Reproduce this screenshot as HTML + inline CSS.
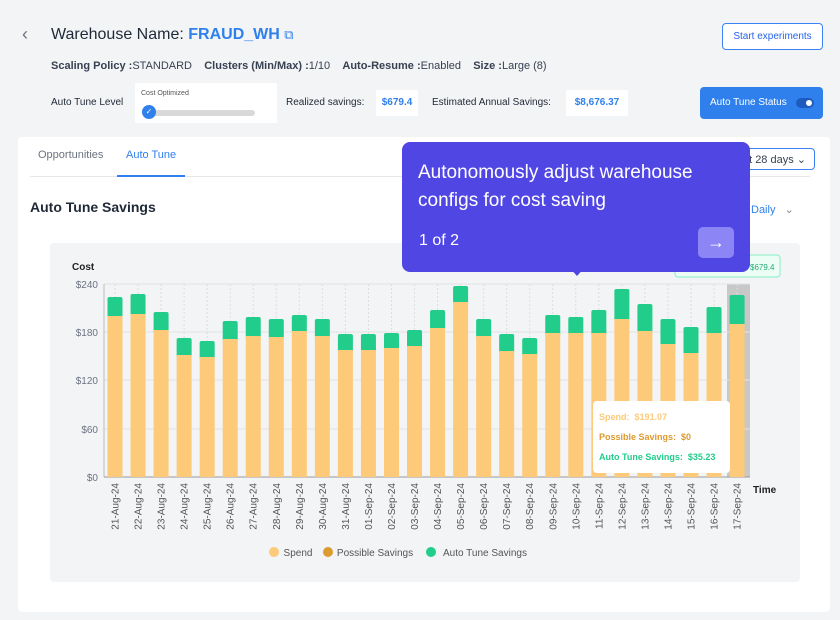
<!DOCTYPE html>
<html><head><meta charset="utf-8"><style>
body{margin:0;width:840px;height:620px;background:#f3f4f6;font-family:"Liberation Sans",sans-serif;position:relative;overflow:hidden;color:#1f2937}
.a{position:absolute;white-space:nowrap}
</style></head><body>
<div class="a" style="left:22px;top:24px;font-size:18px;color:#6b7280">‹</div>
<div class="a" style="left:51px;top:26px;font-size:16px;color:#1f2937">Warehouse Name: <span style="color:#2f80ed;font-weight:bold">FRAUD_WH</span> <span style="color:#2f80ed;font-size:13px">⧉</span></div>
<div class="a" style="left:722px;top:23px;width:99px;height:25px;border:1px solid #3b82f6;border-radius:4px;background:#fff;color:#2563eb;font-size:10px;line-height:25px;text-align:center">Start experiments</div>
<div class="a" style="left:51px;top:60px;font-size:11px;color:#374151"><b>Scaling Policy :</b>STANDARD &nbsp;&nbsp; <b>Clusters (Min/Max) :</b>1/10 &nbsp;&nbsp; <b>Auto-Resume :</b>Enabled &nbsp;&nbsp; <b>Size :</b>Large (8)</div>
<div class="a" style="left:51px;top:97px;font-size:10px">Auto Tune Level</div>
<div class="a" style="left:135px;top:83px;width:142px;height:40px;background:#fff"></div>
<div class="a" style="left:141px;top:90px;font-size:7px;color:#555">Cost Optimized</div>
<div class="a" style="left:145px;top:110px;width:110px;height:6px;background:#d9d9d9;border-radius:3px"></div>
<div class="a" style="left:142px;top:105px;width:14px;height:14px;border-radius:50%;background:#2f80ed;color:#fff;font-size:8px;text-align:center;line-height:14px">✓</div>
<div class="a" style="left:286px;top:97px;font-size:10px">Realized savings:</div>
<div class="a" style="left:376px;top:90px;width:42px;height:26px;background:#fff;color:#2f80ed;font-size:10px;font-weight:bold;line-height:26px;text-align:center">$679.4</div>
<div class="a" style="left:432px;top:97px;font-size:10px">Estimated Annual Savings:</div>
<div class="a" style="left:566px;top:90px;width:62px;height:26px;background:#fff;color:#2f80ed;font-size:10px;font-weight:bold;line-height:26px;text-align:center">$8,676.37</div>
<div class="a" style="left:700px;top:87px;width:123px;height:32px;background:#2f80ed;border-radius:4px;color:#fff;font-size:10px;line-height:32px;padding-left:10px;box-sizing:border-box">Auto Tune Status<span style="position:absolute;right:9px;top:11px;width:18px;height:10px;border-radius:5px;background:#1e5bbf"><span style="position:absolute;right:2px;top:2px;width:6px;height:6px;border-radius:50%;background:#fff"></span></span></div>
<div class="a" style="left:18px;top:137px;width:812px;height:475px;background:#fff;border-radius:4px"></div>
<div class="a" style="left:38px;top:149px;font-size:11px;color:#6b7280">Opportunities</div>
<div class="a" style="left:126px;top:149px;font-size:11px;color:#2f80ed">Auto Tune</div>
<div class="a" style="left:30px;top:176px;width:780px;height:1px;background:#e5e7eb"></div>
<div class="a" style="left:117px;top:175px;width:68px;height:2px;background:#2f80ed"></div>
<div class="a" style="left:740px;top:148px;width:75px;height:22px;border:1px solid #3b82f6;border-radius:4px;font-size:11px;line-height:22px;color:#374151;text-align:right;padding-right:8px;box-sizing:border-box">t 28 days ⌄</div>
<div class="a" style="left:30px;top:199px;font-size:14px;font-weight:bold;color:#1f2937">Auto Tune Savings</div>
<div class="a" style="left:751px;top:203px;font-size:11px;color:#2f80ed">Daily &nbsp;&nbsp;<span style="color:#888">⌄</span></div>
<div class="a" style="left:50px;top:243px;width:750px;height:339px;background:#f3f4f6;border-radius:4px"></div>
<svg class="a" style="left:0;top:0" width="840" height="620" font-family="Liberation Sans,sans-serif">
<rect x="727" y="284" width="23" height="193" fill="#c8c8c8"/>
<g stroke="#e2e2e2"><line x1="104" y1="284" x2="750" y2="284"/><line x1="104" y1="332" x2="750" y2="332"/><line x1="104" y1="380" x2="750" y2="380"/><line x1="104" y1="429" x2="750" y2="429"/></g>
<line x1="104" y1="284" x2="104" y2="477" stroke="#bbb"/><line x1="104" y1="477" x2="750" y2="477" stroke="#999"/>
<g font-size="10" fill="#6b7280" text-anchor="end"><text x="98" y="288">$240</text><text x="98" y="336">$180</text><text x="98" y="384">$120</text><text x="98" y="433">$60</text><text x="98" y="481">$0</text></g>
<text x="72" y="270" font-size="10" font-weight="bold" fill="#222">Cost</text>
<text x="753" y="493" font-size="10" font-weight="bold" fill="#222">Time</text>
<g id="bars"></g>
<g font-size="10" fill="#555" text-anchor="middle"><circle cx="274" cy="552" r="5" fill="#fdca7a"/><text x="298" y="556">Spend</text><circle cx="328" cy="552" r="5" fill="#dc9a2f"/><text x="375" y="556">Possible Savings</text><circle cx="431" cy="552" r="5" fill="#22cc8a"/><text x="485" y="556">Auto Tune Savings</text></g>
<rect x="675" y="255" width="105" height="22" rx="3" fill="#ecfdf5" stroke="#86efc4"/><text x="750" y="270" font-size="8" fill="#22aa77">$679.4</text>
</svg>
<div class="a" style="left:593px;top:401px;width:137px;height:72px;background:#fff;border-radius:4px;font-size:9px;font-weight:bold;line-height:20px;padding:6px 6px;box-sizing:border-box"><div style="color:#fdca7a">Spend: &nbsp;$191.07</div><div style="color:#dc9a2f">Possible Savings: &nbsp;$0</div><div style="color:#22cc8a">Auto Tune Savings: &nbsp;$35.23</div></div>
<div class="a" style="left:402px;top:142px;width:348px;height:130px;background:#5046e4;border-radius:8px"></div>
<div class="a" style="left:568px;top:266px;width:0;height:0;border-left:9px solid transparent;border-right:9px solid transparent;border-top:10px solid #5046e4"></div>
<div class="a" style="left:418px;top:159px;font-size:19px;line-height:28px;color:#fff">Autonomously adjust warehouse<br>configs for cost saving</div>
<div class="a" style="left:419px;top:232px;font-size:16px;color:#fff">1 of 2</div>
<div class="a" style="left:698px;top:227px;width:36px;height:31px;background:#8c85f6;border-radius:5px;color:#fff;font-size:18px;line-height:30px;text-align:center">→</div>
<script>
var d=[[297,316],[294,314],[312,330],[338,355],[341,357],[321,339],[317,336],[319,337],[315,331],[319,336],[334,350],[334,350],[333,348],[330,346],[310,328],[286,302],[319,336],[334,351],[338,354],[315,333],[317,333],[310,333],[289,319],[304,331],[319,344],[327,353],[307,333],[295,324]];
var L=['21-Aug-24','22-Aug-24','23-Aug-24','24-Aug-24','25-Aug-24','26-Aug-24','27-Aug-24','28-Aug-24','29-Aug-24','30-Aug-24','31-Aug-24','01-Sep-24','02-Sep-24','03-Sep-24','04-Sep-24','05-Sep-24','06-Sep-24','07-Sep-24','08-Sep-24','09-Sep-24','10-Sep-24','11-Sep-24','12-Sep-24','13-Sep-24','14-Sep-24','15-Sep-24','16-Sep-24','17-Sep-24'];
var s='';d.forEach(function(b,i){var c=115+i*23.04,x=c-7.5;
s+='<line x1="'+c+'" y1="284" x2="'+c+'" y2="477" stroke="#ddd" stroke-dasharray="2,2"/>';
s+='<rect x="'+x+'" y="'+b[0]+'" width="15" height="'+(b[1]-b[0]+3)+'" rx="2" fill="#22cc8a"/>';
s+='<rect x="'+x+'" y="'+b[1]+'" width="15" height="'+(477-b[1])+'" fill="#fdca7a"/>';
s+='<text transform="translate('+(c+3.5)+',483) rotate(-90)" text-anchor="end" font-size="10" fill="#555">'+L[i]+'</text>';});
document.getElementById('bars').innerHTML=s;
</script>
</body></html>
